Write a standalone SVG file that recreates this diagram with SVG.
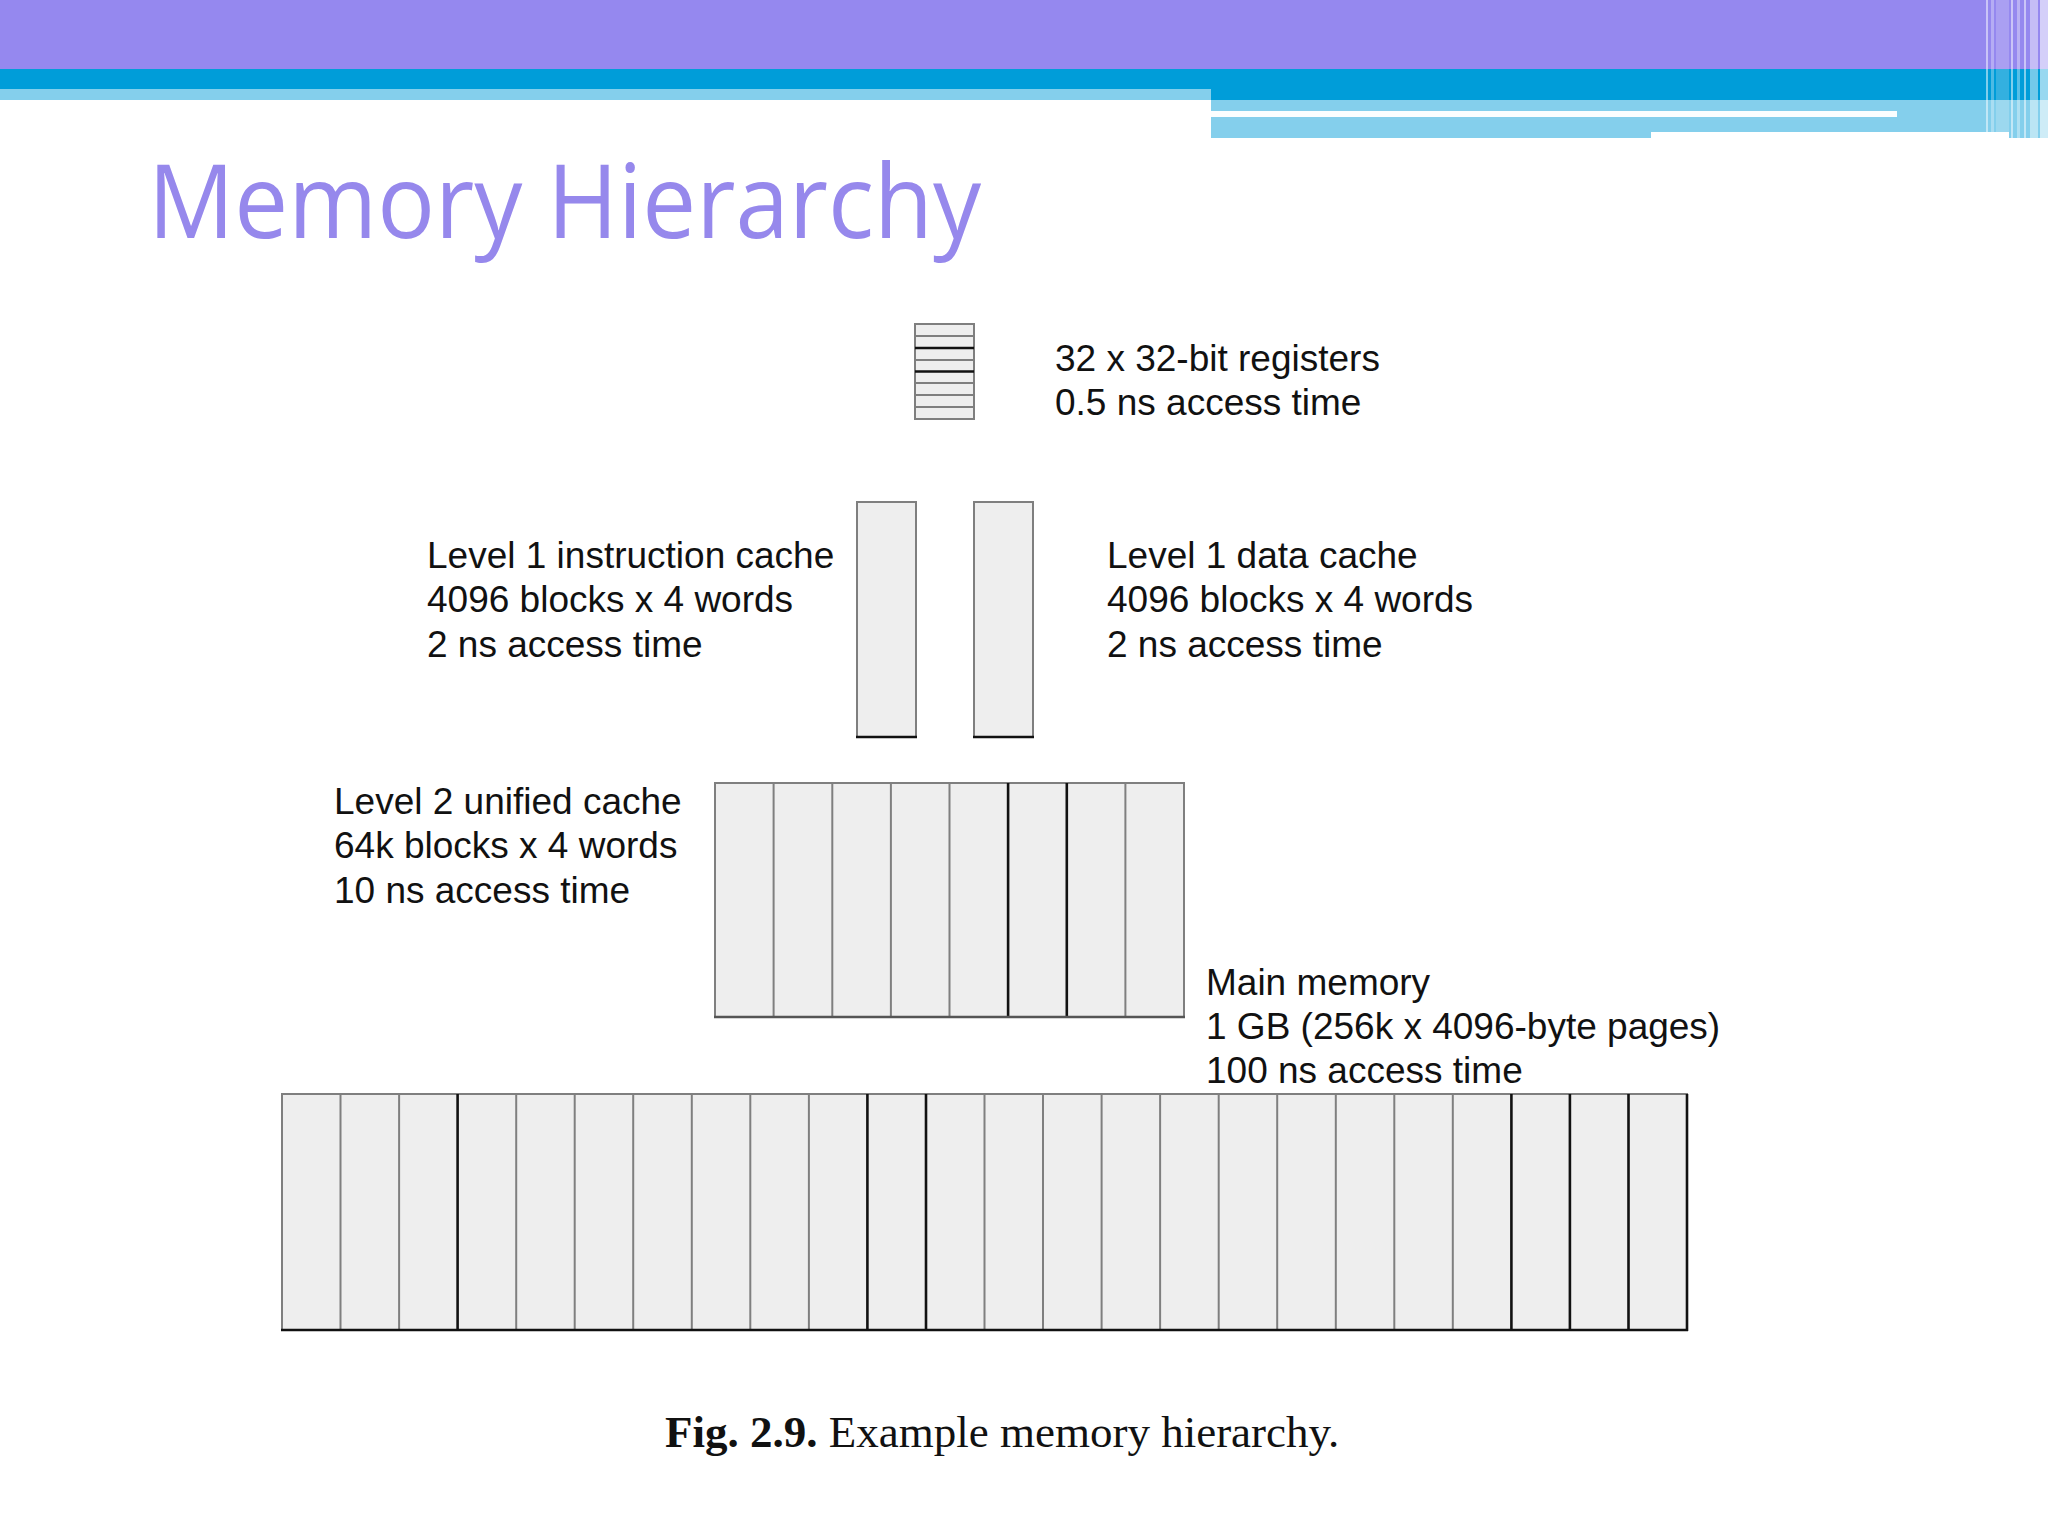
<svg xmlns="http://www.w3.org/2000/svg" width="2048" height="1536" viewBox="0 0 2048 1536">
<style>
.lbl{font-family:"Liberation Sans",Arial,sans-serif;font-size:37px;fill:#111}
.cell{fill:#EEEEEE;stroke:#7F7F7F;stroke-width:2}
.div{stroke:#7F7F7F;stroke-width:2}
.dk{stroke:#111;stroke-width:2.6}
</style>
<rect x="0" y="0" width="2048" height="1536" fill="#FFFFFF"/>
<g id="header">
<rect x="0" y="0" width="2048" height="69" fill="#9588EF"/>
<rect x="0" y="69" width="2048" height="31" fill="#009DD9"/>
<rect x="0" y="89" width="1211" height="11" fill="#84CFEC"/>
<rect x="1211" y="100" width="837" height="38" fill="#84CFEC"/>
<rect x="1211" y="111" width="686" height="6" fill="#FBFEFF"/>
<rect x="1651" y="132" width="358" height="6" fill="#FFFFFF"/>
<g fill="#FFFFFF">
<rect x="1986" y="0" width="2" height="138" opacity="0.5"/>
<rect x="1991" y="0" width="3" height="138" opacity="0.3"/>
<rect x="1996" y="0" width="13" height="138" opacity="0.2"/>
<rect x="2011" y="0" width="2" height="138" opacity="0.5"/>
<rect x="2017" y="0" width="3" height="138" opacity="0.35"/>
<rect x="2024" y="0" width="2" height="138" opacity="0.5"/>
<rect x="2030" y="0" width="8" height="138" opacity="0.45"/>
<rect x="2040" y="0" width="8" height="138" opacity="0.6"/>
</g>
</g>
<g id="title">
<text x="148" y="238" font-family="'Open Sans','Noto Sans',sans-serif" font-size="103" fill="#9688EC" textLength="833" lengthAdjust="spacingAndGlyphs">Memory Hierarchy</text>
</g>
<g id="registers">
<rect class="cell" x="915" y="324" width="59" height="95"/>
<line class="div" x1="915" y1="336" x2="974" y2="336"/>
<line class="dk" x1="915" y1="348" x2="974" y2="348"/>
<line class="div" x1="915" y1="360" x2="974" y2="360"/>
<line class="dk" x1="915" y1="371.5" x2="974" y2="371.5"/>
<line class="div" x1="915" y1="383" x2="974" y2="383"/>
<line class="div" x1="915" y1="395" x2="974" y2="395"/>
<line class="div" x1="915" y1="407" x2="974" y2="407"/>
<text class="lbl" x="1055" y="371">32 x 32-bit registers</text>
<text class="lbl" x="1055" y="415">0.5 ns access time</text>
</g>
<g id="l1-instruction-cache">
<rect class="cell" x="857" y="502" width="59" height="235"/>
<line class="dk" x1="856" y1="737" x2="917" y2="737"/>
<text class="lbl" x="427" y="568">Level 1 instruction cache</text>
<text class="lbl" x="427" y="612">4096 blocks x 4 words</text>
<text class="lbl" x="427" y="657">2 ns access time</text>
</g>
<g id="l1-data-cache">
<rect class="cell" x="974" y="502" width="59" height="235"/>
<line class="dk" x1="973" y1="737" x2="1034" y2="737"/>
<text class="lbl" x="1107" y="568">Level 1 data cache</text>
<text class="lbl" x="1107" y="612">4096 blocks x 4 words</text>
<text class="lbl" x="1107" y="657">2 ns access time</text>
</g>
<g id="l2-unified-cache">
<rect class="cell" x="715" y="783" width="469" height="234"/>
<line class="div" x1="773.6" y1="783" x2="773.6" y2="1017"/>
<line class="div" x1="832.3" y1="783" x2="832.3" y2="1017"/>
<line class="div" x1="890.9" y1="783" x2="890.9" y2="1017"/>
<line class="div" x1="949.5" y1="783" x2="949.5" y2="1017"/>
<line class="dk" x1="1008.1" y1="783" x2="1008.1" y2="1017"/>
<line class="dk" x1="1066.8" y1="783" x2="1066.8" y2="1017"/>
<line class="div" x1="1125.4" y1="783" x2="1125.4" y2="1017"/>
<line x1="714" y1="1017" x2="1185" y2="1017" stroke="#555" stroke-width="2.4"/>
<text class="lbl" x="334" y="814">Level 2 unified cache</text>
<text class="lbl" x="334" y="858">64k blocks x 4 words</text>
<text class="lbl" x="334" y="903">10 ns access time</text>
</g>
<g id="main-memory">
<rect class="cell" x="282" y="1094" width="1405" height="236"/>
<g class="div">
<line x1="340.5" y1="1094" x2="340.5" y2="1330"/>
<line x1="399.1" y1="1094" x2="399.1" y2="1330"/>
<line x1="516.2" y1="1094" x2="516.2" y2="1330"/>
<line x1="574.7" y1="1094" x2="574.7" y2="1330"/>
<line x1="633.2" y1="1094" x2="633.2" y2="1330"/>
<line x1="691.8" y1="1094" x2="691.8" y2="1330"/>
<line x1="750.3" y1="1094" x2="750.3" y2="1330"/>
<line x1="808.9" y1="1094" x2="808.9" y2="1330"/>
<line x1="984.5" y1="1094" x2="984.5" y2="1330"/>
<line x1="1043" y1="1094" x2="1043" y2="1330"/>
<line x1="1101.6" y1="1094" x2="1101.6" y2="1330"/>
<line x1="1160.1" y1="1094" x2="1160.1" y2="1330"/>
<line x1="1218.7" y1="1094" x2="1218.7" y2="1330"/>
<line x1="1277.2" y1="1094" x2="1277.2" y2="1330"/>
<line x1="1335.8" y1="1094" x2="1335.8" y2="1330"/>
<line x1="1394.3" y1="1094" x2="1394.3" y2="1330"/>
<line x1="1452.8" y1="1094" x2="1452.8" y2="1330"/>
</g>
<g class="dk">
<line x1="457.6" y1="1094" x2="457.6" y2="1330"/>
<line x1="867.4" y1="1094" x2="867.4" y2="1330"/>
<line x1="926" y1="1094" x2="926" y2="1330"/>
<line x1="1511.4" y1="1094" x2="1511.4" y2="1330"/>
<line x1="1569.9" y1="1094" x2="1569.9" y2="1330"/>
<line x1="1628.5" y1="1094" x2="1628.5" y2="1330"/>
<line x1="1687" y1="1094" x2="1687" y2="1331"/>
<line x1="281" y1="1330" x2="1688" y2="1330"/>
</g>
<text class="lbl" x="1206" y="995">Main memory</text>
<text class="lbl" x="1206" y="1039">1 GB (256k x 4096-byte pages)</text>
<text class="lbl" x="1206" y="1083">100 ns access time</text>
</g>
<g id="connectors"/>
<g id="caption">
<text x="665" y="1447" font-family="'Liberation Serif','Times New Roman',serif" font-size="45" fill="#111"><tspan font-weight="bold">Fig. 2.9.</tspan> Example memory hierarchy.</text>
</g>
</svg>
